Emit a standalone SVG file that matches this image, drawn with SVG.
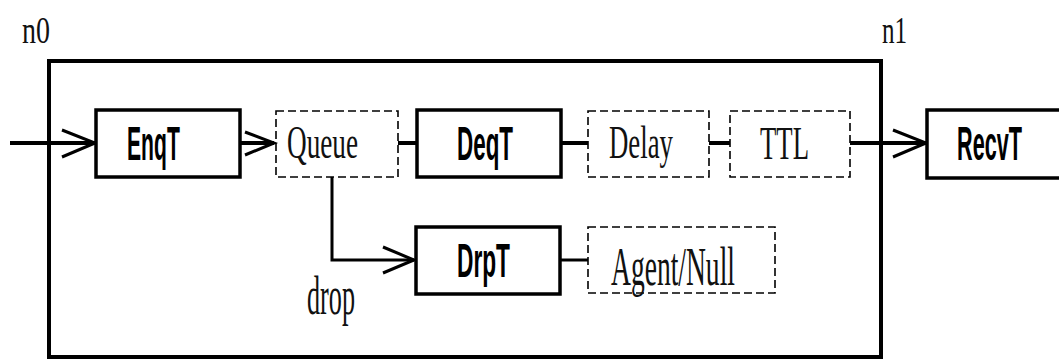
<svg xmlns="http://www.w3.org/2000/svg" width="1059" height="360" viewBox="0 0 1059 360">
<style>
.solid{fill:#fff;stroke:#000;stroke-width:3.5}
.dash{fill:none;stroke:#000;stroke-width:1.6;stroke-dasharray:8 4}
.sans{font-family:"Liberation Sans",Arial,sans-serif;font-weight:bold;font-size:48px;fill:#000}
.serif{font-family:"Liberation Serif","Times New Roman",serif;font-size:47px;fill:#111}
.big{font-size:55px}
.small{font-size:38px}
.wire{fill:none;stroke:#000;stroke-width:4}
.thin{stroke-width:3}
.head{fill:none;stroke:#000;stroke-width:3}
</style>
<rect width="1059" height="360" fill="#fff"/>
<g id="outer">
<rect x="49" y="61" width="832" height="296" fill="none" stroke="#000" stroke-width="4"/>
<text class="serif small" transform="matrix(0.737 0 0 1 22 43)">n0</text>
<text class="serif small" transform="matrix(0.66 0 0 1 882 43)">n1</text>
</g>
<g id="connectors">
<line class="wire" x1="10" y1="143" x2="95" y2="143"/>
<polyline class="head" points="62,130 95,143 62,157"/>
<line class="wire" x1="240" y1="143" x2="274" y2="143"/>
<polyline class="head" points="245,132 274,143 245,155"/>
<line class="wire" x1="398" y1="143" x2="417" y2="143"/>
<line class="wire" x1="561" y1="143" x2="588" y2="143"/>
<line class="wire" x1="709" y1="143" x2="730" y2="143"/>
<line class="wire" x1="850" y1="143" x2="926" y2="143"/>
<polyline class="head" points="893,130 926,143 893,157"/>
<polyline class="wire thin" points="332,177 332,260 414,260"/>
<polyline class="head" points="383,247 414,260 383,273"/>
<line class="wire thin" x1="560" y1="260" x2="588" y2="260"/>
</g>
<g id="EnqT">
<rect class="solid" x="96" y="110" width="144" height="67"/>
<text class="sans" transform="matrix(0.44 0 0 1 127 160)">EnqT</text>
</g>
<g id="Queue">
<rect class="dash" x="276" y="111" width="122" height="66"/>
<text class="serif" transform="matrix(0.579 0 0 1 287 158)">Queue</text>
</g>
<g id="DeqT">
<rect class="solid" x="417" y="110" width="144" height="67"/>
<text class="sans" transform="matrix(0.467 0 0 1 457 160)">DeqT</text>
</g>
<g id="Delay">
<rect class="dash" x="588" y="111" width="121" height="66"/>
<text class="serif" transform="matrix(0.57 0 0 1 609 158)">Delay</text>
</g>
<g id="TTL">
<rect class="dash" x="730" y="111" width="120" height="66"/>
<text class="serif" transform="matrix(0.569 0 0 1 760 159)">TTL</text>
</g>
<g id="RecvT">
<rect class="solid" x="927" y="110" width="140" height="68"/>
<text class="sans" transform="matrix(0.451 0 0 1 957 160)">RecvT</text>
</g>
<g id="DrpT">
<rect class="solid" x="416" y="227" width="144" height="67"/>
<text class="sans" transform="matrix(0.473 0 0 1 457 277)">DrpT</text>
</g>
<g id="AgentNull">
<rect class="dash" x="588" y="227" width="187" height="66"/>
<text class="serif big" transform="matrix(0.501 0 0 1 611 285)">Agent/Null</text>
</g>
<g id="dropLabel">
<text class="serif big" transform="matrix(0.476 0 0 1 307 314)">drop</text>
</g>
</svg>
